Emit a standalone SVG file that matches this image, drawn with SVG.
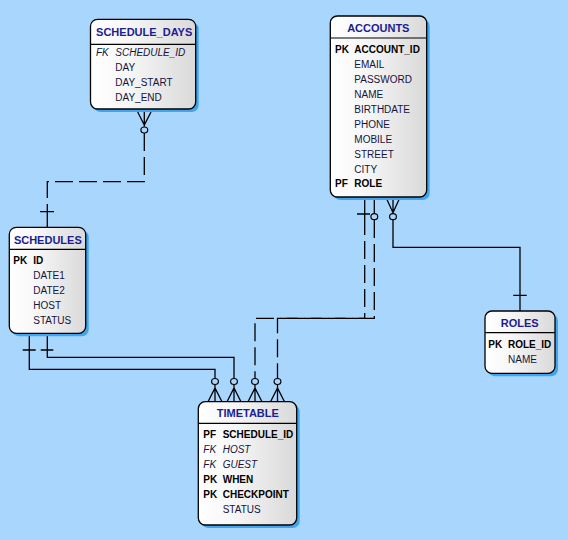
<svg xmlns="http://www.w3.org/2000/svg" width="568" height="540" viewBox="0 0 568 540">
<defs>
<linearGradient id="g" x1="0" y1="0" x2="1" y2="0">
<stop offset="0" stop-color="#FFFFFF"/>
<stop offset="0.35" stop-color="#F7F7F7"/>
<stop offset="1" stop-color="#D9D9D9"/>
</linearGradient>
<style>
.sh{fill:#3FA5F3}
.box{fill:url(#g);stroke:#000;stroke-width:1.3}
.hl{stroke:#000;stroke-width:1.2}
text{font-family:"Liberation Sans",Arial,sans-serif;font-size:10px}
.t{font-size:11px;font-weight:bold;fill:#1C1C94;text-anchor:middle}
.k{font-weight:bold;fill:#000}
.fi{font-style:italic;fill:#141440}
.f{fill:#141440}
.fb{font-weight:bold;fill:#000}
.ln{fill:none;stroke:#000;stroke-width:1.3}
.ds{fill:none;stroke:#000;stroke-width:1.3;stroke-dasharray:18 6}
.c{fill:none;stroke:#000;stroke-width:1.2}
</style>
</defs>
<rect x="0" y="0" width="568" height="540" fill="#A8D6FC"/>

<g id="connectors">
<!-- SCHEDULE_DAYS - SCHEDULES -->
<path class="ln" d="M137.7 112 L144.3 125 L151 112 M144.3 109 V126.7"/>
<ellipse class="c" cx="144.3" cy="130" rx="3.4" ry="3"/>
<path class="ds" d="M144.3 133 V181.7 H47.3 V203"/>
<path class="ln" d="M47.3 204 V227.3 M40 211.7 H54"/>
<!-- SCHEDULES - TIMETABLE A -->
<path class="ln" d="M29.3 333.3 V369.3 H215 V378.2 M22.7 350 H35.7"/>
<path class="ln" d="M215 384.8 V401.7 M208 401.7 L215 388 L222 401.7"/>
<ellipse class="c" cx="215" cy="381.5" rx="3.4" ry="3"/>
<!-- SCHEDULES - TIMETABLE B -->
<path class="ln" d="M47.3 333.3 V357.3 H234 V378.2 M40.7 350 H53.3"/>
<path class="ln" d="M234 384.8 V401.7 M227 401.7 L234 388 L241 401.7"/>
<ellipse class="c" cx="234" cy="381.5" rx="3.4" ry="3"/>
<!-- ACCOUNTS - TIMETABLE (HOST) -->
<path class="ln" d="M364.7 197 V217 M357 214 H370"/>
<path class="ds" d="M364.7 217 V318.3 H255 V378.2"/>
<path class="ln" d="M255 384.8 V401.7 M248 401.7 L255 388 L262 401.7"/>
<ellipse class="c" cx="255" cy="381.5" rx="3.4" ry="3"/>
<!-- ACCOUNTS - TIMETABLE (GUEST) -->
<path class="ln" d="M374.3 197 V213.7"/>
<ellipse class="c" cx="374.3" cy="216.7" rx="3.4" ry="3"/>
<path class="ds" d="M374.3 220 V318.3 H277.5 V378.2"/>
<path class="ln" d="M277.5 384.8 V401.7 M270.5 401.7 L277.5 388 L284.5 401.7"/>
<ellipse class="c" cx="277.5" cy="381.5" rx="3.4" ry="3"/>
<!-- ACCOUNTS - ROLES -->
<path class="ln" d="M386.3 198 L393 212.7 L399.7 198 M393 197 V213.7"/>
<ellipse class="c" cx="393" cy="216.7" rx="3.4" ry="3"/>
<path class="ln" d="M393 219.7 V247.3 H520 V311 M513.3 295.3 H526.7"/>
</g>

<g id="schedule_days">
<rect class="sh" x="93.5" y="22.3" width="105.2" height="89.7" rx="7"/>
<rect class="box" x="90.5" y="19.3" width="105.2" height="89.7" rx="7"/>
<line class="hl" x1="90.5" y1="44.3" x2="195.7" y2="44.3"/>
<text class="t" x="144.2" y="35.5">SCHEDULE_DAYS</text>
<text class="fi" x="96" y="55.7">FK</text>
<text class="fi" x="115.3" y="55.7">SCHEDULE_ID</text>
<text class="f" x="115.3" y="70.7">DAY</text>
<text class="f" x="115.3" y="85.7">DAY_START</text>
<text class="f" x="115.3" y="100.7">DAY_END</text>
</g>

<g id="accounts">
<rect class="sh" x="333.3" y="19" width="96.4" height="181" rx="7"/>
<rect class="box" x="330.3" y="16" width="96.4" height="181" rx="7"/>
<line class="hl" x1="330.3" y1="38" x2="426.7" y2="38"/>
<text class="t" x="378.3" y="31.7">ACCOUNTS</text>
<text class="k" x="335" y="53.3">PK</text>
<text class="fb" x="354.3" y="53.3">ACCOUNT_ID</text>
<text class="f" x="354.3" y="68.2">EMAIL</text>
<text class="f" x="354.3" y="83.1">PASSWORD</text>
<text class="f" x="354.3" y="98">NAME</text>
<text class="f" x="354.3" y="112.9">BIRTHDATE</text>
<text class="f" x="354.3" y="127.8">PHONE</text>
<text class="f" x="354.3" y="142.7">MOBILE</text>
<text class="f" x="354.3" y="157.6">STREET</text>
<text class="f" x="354.3" y="172.5">CITY</text>
<text class="k" x="335" y="187.4">PF</text>
<text class="fb" x="354.3" y="187.4">ROLE</text>
</g>

<g id="schedules">
<rect class="sh" x="12.3" y="230.3" width="76.4" height="106" rx="7"/>
<rect class="box" x="9.3" y="227.3" width="76.4" height="106" rx="7"/>
<line class="hl" x1="9.3" y1="249.3" x2="85.7" y2="249.3"/>
<text class="t" x="47.8" y="244">SCHEDULES</text>
<text class="k" x="13.3" y="264.3">PK</text>
<text class="fb" x="33.3" y="264.3">ID</text>
<text class="f" x="33.3" y="279.2">DATE1</text>
<text class="f" x="33.3" y="294.1">DATE2</text>
<text class="f" x="33.3" y="309">HOST</text>
<text class="f" x="33.3" y="323.9">STATUS</text>
</g>

<g id="timetable">
<rect class="sh" x="201.3" y="404.7" width="98.4" height="123.3" rx="7"/>
<rect class="box" x="198.3" y="401.7" width="98.4" height="123.3" rx="7"/>
<line class="hl" x1="198.3" y1="423.3" x2="296.7" y2="423.3"/>
<text class="t" x="247.8" y="416.7">TIMETABLE</text>
<text class="k" x="203.3" y="437.7">PF</text>
<text class="fb" x="222.7" y="437.7">SCHEDULE_ID</text>
<text class="fi" x="203.3" y="452.7">FK</text>
<text class="fi" x="222.7" y="452.7">HOST</text>
<text class="fi" x="203.3" y="467.7">FK</text>
<text class="fi" x="222.7" y="467.7">GUEST</text>
<text class="k" x="203.3" y="482.7">PK</text>
<text class="fb" x="222.7" y="482.7">WHEN</text>
<text class="k" x="203.3" y="497.7">PK</text>
<text class="fb" x="222.7" y="497.7">CHECKPOINT</text>
<text class="f" x="222.7" y="512.7">STATUS</text>
</g>

<g id="roles">
<rect class="sh" x="488" y="314" width="70" height="62.3" rx="7"/>
<rect class="box" x="485" y="311" width="70" height="62.3" rx="7"/>
<line class="hl" x1="485" y1="332.7" x2="555" y2="332.7"/>
<text class="t" x="519.7" y="326.7">ROLES</text>
<text class="k" x="488.3" y="348.3">PK</text>
<text class="fb" x="508" y="348.3">ROLE_ID</text>
<text class="f" x="508" y="363.2">NAME</text>
</g>
</svg>
